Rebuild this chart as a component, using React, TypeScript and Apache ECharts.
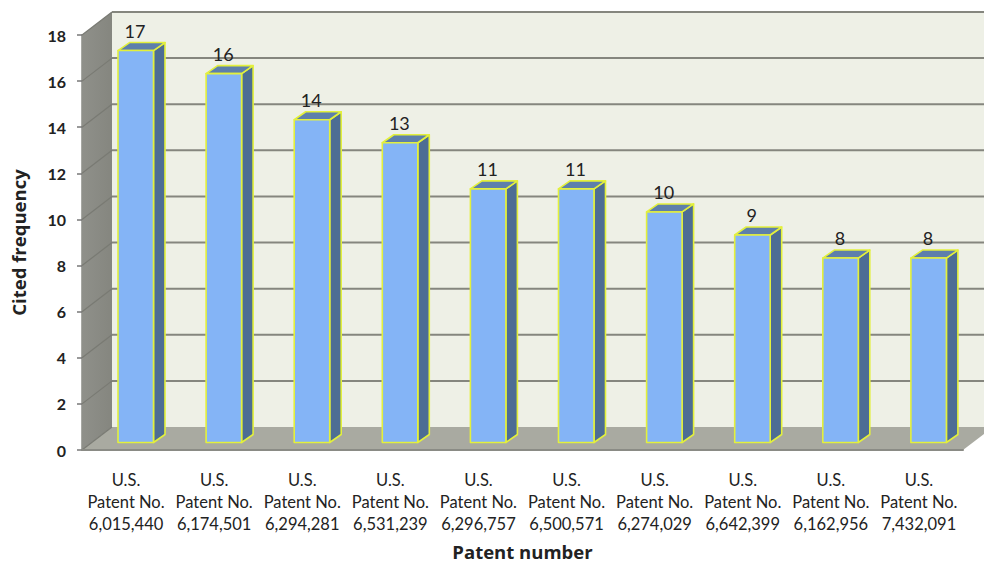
import React, { useEffect, useRef } from "react";
import * as echarts from "echarts";

const patentNumbers = ["6,015,440", "6,174,501", "6,294,281", "6,531,239", "6,296,757", "6,500,571", "6,274,029", "6,642,399", "6,162,956", "7,432,091"];
const citedFrequency = [17, 16, 14, 13, 11, 11, 10, 9, 8, 8];
const yTicks = [0, 2, 4, 6, 8, 10, 12, 14, 16, 18];

const categories = patentNumbers.map((n) => `U.S.\nPatent No.\n${n}`);

const WALL_DX = 30;
const WALL_DY = -23;
const BAR_DX = 9.7;
const BAR_DY = -7.5;
const BAR_W = 35.5;
const BAR_DEPTH_X = 11.5;
const BAR_DEPTH_Y = -8;
const FONT = "Lato, 'Open Sans', sans-serif";
const NAME_FONT = "'Open Sans', 'Noto Sans', sans-serif";

function renderWalls(params: any, api: any) {
  const cs = params.coordSys;
  const left = cs.x;
  const right = cs.x + cs.width;
  const top = cs.y;
  const bottom = cs.y + cs.height;
  const children: any[] = [
    {
      type: "polygon",
      shape: { points: [[left + WALL_DX, top + WALL_DY], [right + WALL_DX + 30, top + WALL_DY], [right + WALL_DX + 30, bottom + WALL_DY], [left + WALL_DX, bottom + WALL_DY]] },
      style: { fill: "#eef0e6" },
    },
    {
      type: "polygon",
      shape: { points: [[left, top], [left + WALL_DX, top + WALL_DY], [left + WALL_DX, bottom + WALL_DY], [left, bottom]] },
      style: {
        fill: new echarts.graphic.LinearGradient(0, 0, 1, 0, [
          { offset: 0, color: "#8f908a" },
          { offset: 1, color: "#85867f" },
        ]),
      },
    },
    {
      type: "polygon",
      shape: { points: [[left, bottom], [right, bottom], [right + WALL_DX, bottom + WALL_DY], [left + WALL_DX, bottom + WALL_DY]] },
      style: { fill: "#a9aaa1" },
    },
  ];
  yTicks.forEach((t) => {
    const y = api.coord([0, t])[1];
    if (t > 0) {
      children.push({
        type: "line",
        shape: { x1: left + WALL_DX, y1: y + WALL_DY, x2: right + WALL_DX + 30, y2: y + WALL_DY },
        style: { stroke: "#85867e", lineWidth: 2 },
      });
    }
    children.push({
      type: "line",
      shape: { x1: left, y1: y, x2: left + WALL_DX, y2: y + WALL_DY },
      style: { stroke: "#797a73", lineWidth: 1.2 },
    });
  });
  return { type: "group", children };
}

function renderBar(_params: any, api: any) {
  const idx = api.value(0);
  const val = api.value(1);
  const [cx, yTop] = api.coord([idx, val]);
  const yBase = api.coord([idx, 0])[1];
  const x0 = cx + BAR_DX - BAR_W / 2;
  const x1 = x0 + BAR_W;
  const y0 = yTop + BAR_DY;
  const y1 = yBase + BAR_DY;
  const edge = { stroke: "#e3f03c", lineWidth: 1.6, lineJoin: "round" };
  return {
    type: "group",
    children: [
      {
        type: "polygon",
        shape: { points: [[x1, y0], [x1 + BAR_DEPTH_X, y0 + BAR_DEPTH_Y], [x1 + BAR_DEPTH_X, y1 + BAR_DEPTH_Y], [x1, y1]] },
        style: { fill: "#4d6d94", ...edge },
      },
      {
        type: "polygon",
        shape: { points: [[x0, y0], [x0 + BAR_DEPTH_X, y0 + BAR_DEPTH_Y], [x1 + BAR_DEPTH_X, y0 + BAR_DEPTH_Y], [x1, y0]] },
        style: { fill: "#5d7fab", ...edge },
      },
      {
        type: "rect",
        shape: { x: x0, y: y0, width: BAR_W, height: y1 - y0 },
        style: { fill: "#84b4f6", ...edge },
      },
      {
        type: "text",
        x: cx + 9,
        y: y0 - 20,
        style: { text: String(val), fill: "#222222", font: `18px ${FONT}`, align: "center", verticalAlign: "middle" },
      },
    ],
  };
}

export default function App() {
  const ref = useRef<HTMLDivElement>(null);
  useEffect(() => {
    document.body.style.margin = "0";
    const chart = echarts.init(ref.current!, null, { renderer: "svg" });
    chart.setOption({
      animation: false,
      backgroundColor: "#ffffff",
      grid: { left: 82, right: 21, top: 35, bottom: 114, outerBoundsMode: "none" },
      xAxis: {
        type: "category",
        data: categories,
        name: "Patent number",
        nameLocation: "middle",
        nameGap: 89,
        nameTextStyle: { fontFamily: NAME_FONT, fontSize: 18.5, lineHeight: 24, fontWeight: "bold", color: "#222222" },
        axisLine: { show: true, lineStyle: { color: "#8a8b85", width: 2 } },
        axisTick: { show: false },
        axisLabel: { interval: 0, margin: 19, fontFamily: FONT, fontSize: 16.5, lineHeight: 22, color: "#222222" },
        z: 5,
      },
      yAxis: {
        type: "value",
        min: 0,
        max: 18,
        interval: 2,
        name: "Cited frequency",
        nameLocation: "middle",
        nameGap: 54,
        nameTextStyle: { fontFamily: NAME_FONT, fontSize: 18.5, fontWeight: "bold", color: "#222222" },
        axisLine: { show: true, lineStyle: { color: "#8a8b85", width: 1.5 } },
        axisTick: { show: true, length: 5, lineStyle: { color: "#777777", width: 1.5 } },
        axisLabel: { margin: 16, fontFamily: FONT, fontSize: 16, fontWeight: "bold", color: "#222222" },
        splitLine: { show: false },
      },
      series: [
        { type: "custom", z: 1, silent: true, clip: false, data: [[0, 0]], renderItem: renderWalls },
        {
          type: "custom",
          z: 3,
          clip: false,
          encode: { x: 0, y: 1 },
          data: citedFrequency.map((v, i) => [i, v]),
          renderItem: renderBar,
        },
      ],
    });
    return () => chart.dispose();
  }, []);
  return <div ref={ref} style={{ width: 984, height: 564 }} />;
}
